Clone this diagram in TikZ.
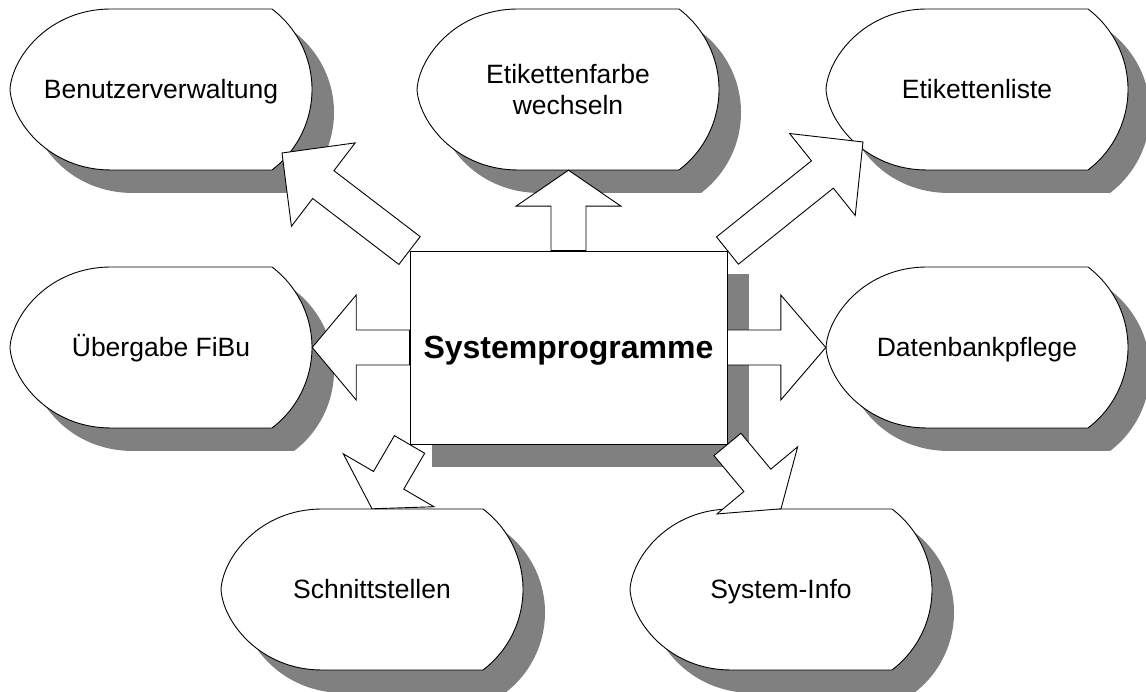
\documentclass[tikz,border=0pt]{standalone}
\usepackage{fontspec}
\setmainfont{Liberation Sans}
\usetikzlibrary{calc,shadows}
\definecolor{shadowgray}{RGB}{128,128,128}
\tikzset{
  outline/.style={draw=black, line width=0.9pt, fill=white, line join=miter},
  shadowfill/.style={fill=shadowgray},
  lbl/.style={minimum width=302pt, minimum height=161pt, inner sep=0pt,
    font=\fontsize{26.5}{30.5}\selectfont, text height=19pt, text depth=0pt},
  mainbox/.style={outline, minimum width=317pt, minimum height=193pt, inner sep=0pt,
    font=\bfseries\fontsize{32}{38}\selectfont, text height=23pt, text depth=0pt,
    drop shadow={shadow xshift=22pt, shadow yshift=-23pt, fill=shadowgray, opacity=1}},
  arrowbody/.style={outline},
}
% block arrow: tail, tip, head length, head half width (shaft half width 17.5pt)
\newcommand\blockarrow[4]{%
  \coordinate (ba-t) at (#1);
  \coordinate (ba-p) at (#2);
  \coordinate (ba-n) at ($(ba-p)!#3!(ba-t)$);
  \draw[arrowbody] ($(ba-t)!17.5pt!90:(ba-p)$) -- ($(ba-n)!17.5pt!90:(ba-p)$)
    -- ($(ba-n)!#4!90:(ba-p)$) -- (ba-p) -- ($(ba-n)!#4!-90:(ba-p)$)
    -- ($(ba-n)!17.5pt!-90:(ba-p)$) -- ($(ba-t)!17.5pt!-90:(ba-p)$) -- cycle;
}
\begin{document}
\begin{tikzpicture}[x=1pt,y=1pt]
\useasboundingbox (0,0) rectangle (1146,692);
\fill[white] (0,0) rectangle (1146,692);

% display-shaped boxes around the centre
\foreach \n/\x/\y/\t in {
  benutzer/161/602.5/Benutzerverwaltung,
  farbe/568/602.5/{\begin{tabular}{@{}c@{}}Etikettenfarbe\\wechseln\end{tabular}},
  liste/977/602.5/Etikettenliste,
  uebergabe/161/344.5/Übergabe FiBu,
  datenbank/977/344.5/Datenbankpflege,
  schnitt/372/102.5/Schnittstellen,
  sysinfo/781/102.5/System-Info}{
  \begin{scope}[shift={(\x,\y)}]
    \fill[shadowfill, shift={(22,-23)}] (-50,80.5) -- (111,80.5)
      arc[start angle=52.85, end angle=-52.85, radius=101pt] -- (-50,-80.5)
      .. controls (-112,-80.5) and (-149,-32.5) .. (-151,0)
      .. controls (-149,32.5) and (-112,80.5) .. cycle;
    \draw[outline] (-50,80.5) -- (111,80.5)
      arc[start angle=52.85, end angle=-52.85, radius=101pt] -- (-50,-80.5)
      .. controls (-112,-80.5) and (-149,-32.5) .. (-151,0)
      .. controls (-149,32.5) and (-112,80.5) .. cycle;
    \node[lbl] (\n) at (0,0) {\t};
  \end{scope}
}

% central box
\node[mainbox] (sys) at (568.5,344.5) {Systemprogramme};

% arrow tips on the upper diagonal targets
\coordinate (tipbenutzer) at ($(benutzer.center)+(121,-63.5)$);
\coordinate (tipliste) at ($(liste.center)+(-114,-52.5)$);

\blockarrow{sys.north}{sys.north |- farbe.south}{36pt}{52.5pt}
\blockarrow{sys.west}{uebergabe.east}{44pt}{52.5pt}
\blockarrow{sys.east}{datenbank.west}{45pt}{52.5pt}
\blockarrow{sys.north west}{tipbenutzer}{52pt}{52.5pt}
\blockarrow{sys.north east}{tipliste}{52pt}{52.5pt}
\blockarrow{sys.south west}{schnitt.north}{33pt}{52.5pt}
\blockarrow{sys.south east}{sysinfo.north}{37pt}{52.5pt}
\end{tikzpicture}
\end{document}
